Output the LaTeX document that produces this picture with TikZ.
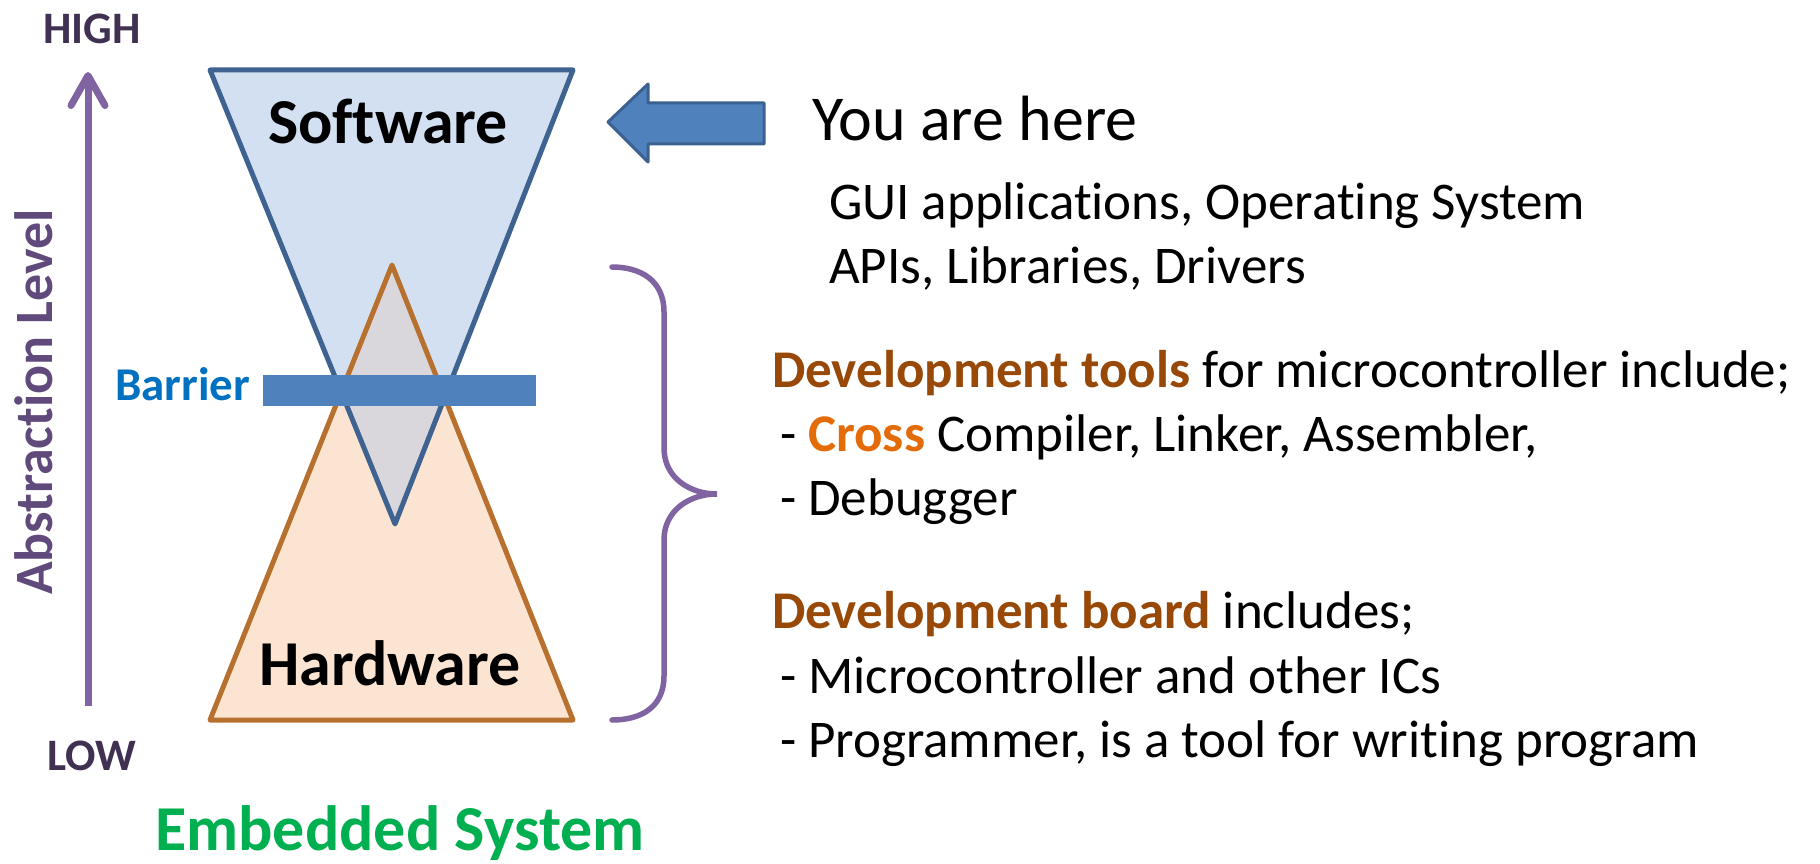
\documentclass[tikz,border=0pt]{standalone}
\usepackage{fontspec}
\setmainfont{Carlito}[Ligatures=NoCommon]
\usetikzlibrary{arrows.meta}

\definecolor{levelpurple}{HTML}{8064A2}
\definecolor{leveltext}{HTML}{604A7B}
\definecolor{endtext}{HTML}{403152}
\definecolor{swline}{HTML}{3F6390}
\definecolor{swfill}{HTML}{D3E0F1}
\definecolor{hwline}{HTML}{B8702F}
\definecolor{hwfill}{HTML}{FCE4D2}
\definecolor{mixfill}{HTML}{D9D6DC}
\definecolor{barrierblue}{HTML}{4F81BD}
\definecolor{barrierline}{HTML}{3A6190}
\definecolor{barriertext}{HTML}{0070C0}
\definecolor{devbrown}{HTML}{984807}
\definecolor{crossorange}{HTML}{E36C09}
\definecolor{embgreen}{HTML}{00B050}

\newcommand\setfs[1]{\fontsize{#1}{#1}\selectfont}

\begin{document}
\begin{tikzpicture}[x=1pt,y=-1pt,
  txt/.style={inner sep=0pt, outer sep=0pt},
  bigbold/.style={txt, font=\setfs{64}\bfseries},
  endlabel/.style={txt, font=\setfs{45}\bfseries, text=endtext},
  bodyline/.style={txt, anchor=base west, font=\setfs{53}},
  layerline/.style={line width=5pt, line join=round}]

\useasboundingbox (0,0) rectangle (1820,864);

% corner points of the two layers
\coordinate (swL) at (210,70);
\coordinate (swR) at (573,70);
\coordinate (swB) at (395,524);
\coordinate (hwT) at (392,265);
\coordinate (hwL) at (210,720);
\coordinate (hwR) at (573,720);

% fills
\fill[swfill] (swL) -- (swR) -- (swB) -- cycle;
\fill[hwfill] (hwT) -- (hwR) -- (hwL) -- cycle;
\begin{scope}
  \clip (swL) -- (swR) -- (swB) -- cycle;
  \fill[mixfill] (hwT) -- (hwR) -- (hwL) -- cycle;
\end{scope}

% outlines
\draw[layerline, swline] (swL) -- (swR) -- (swB) -- cycle;
\draw[layerline, hwline] (hwT) -- (hwR) -- (hwL) -- cycle;

% barrier bar
\fill[barrierblue] (263,375) rectangle (536,406);
\node[txt, anchor=base east, font=\setfs{47}\bfseries, text=barriertext] (barrier) at (250,400) {Barrier};

% layer labels
\node[bigbold, anchor=base] (software) at (388,143) {Software};
\node[bigbold, anchor=base] (hardware) at (390,685) {Hardware};

% abstraction axis
\node[endlabel, anchor=base] (high) at (92,44) {HIGH};
\node[endlabel, anchor=base] (low) at (92,770) {LOW};
\coordinate (axisbot) at (88,706);
\coordinate (axistop) at (88,72);
\draw[levelpurple, line width=7pt,
  -{Straight Barb[length=30pt, width=34pt, round]}] (axisbot) -- (axistop);
\node[txt, rotate=90, anchor=base, font=\setfs{54}\bfseries, text=leveltext]
  (level) at (52,402) {Abstraction Level};

\node[txt, anchor=base, font=\setfs{64}\bfseries, text=embgreen] (embedded) at (400,850) {Embedded System};

% "you are here" block arrow
\draw[fill=barrierblue, draw=barrierline, line width=3pt, line join=round]
  (608,122) -- (648,84) -- (648,103) -- (764,103) -- (764,144) -- (648,144) -- (648,162) -- cycle;

% brace
\draw[levelpurple, line width=5.5pt, line cap=round]
  (612,267) .. controls (640,267) and (664,280) .. (664,312)
  -- (664,448) .. controls (664,478) and (690,494) .. (717,494)
  .. controls (690,494) and (664,510) .. (664,540)
  -- (664,676) .. controls (664,708) and (640,720) .. (612,720);

% descriptions
\node[txt, anchor=base west, font=\setfs{64}] (here) at (812,140) {You are here};
\node[bodyline] (gui) at (829,219) {GUI applications, Operating System};
\node[bodyline] (apis) at (829,283) {APIs, Libraries, Drivers};

\node[bodyline] (tools) at (772,387) {{\bfseries\color{devbrown}Development tools} for microcontroller include;};
\node[bodyline] (cross) at (780,451) {- {\bfseries\color{crossorange}Cross} Compiler, Linker, Assembler,};
\node[bodyline] (debug) at (780,515) {- Debugger};

\node[bodyline] (board) at (772,628) {{\bfseries\color{devbrown}Development board} includes;};
\node[bodyline] (micro) at (780,693) {- Microcontroller and other ICs};
\node[bodyline] (prog) at (780,757) {- Programmer, is a tool for writing program};

\end{tikzpicture}
\end{document}
